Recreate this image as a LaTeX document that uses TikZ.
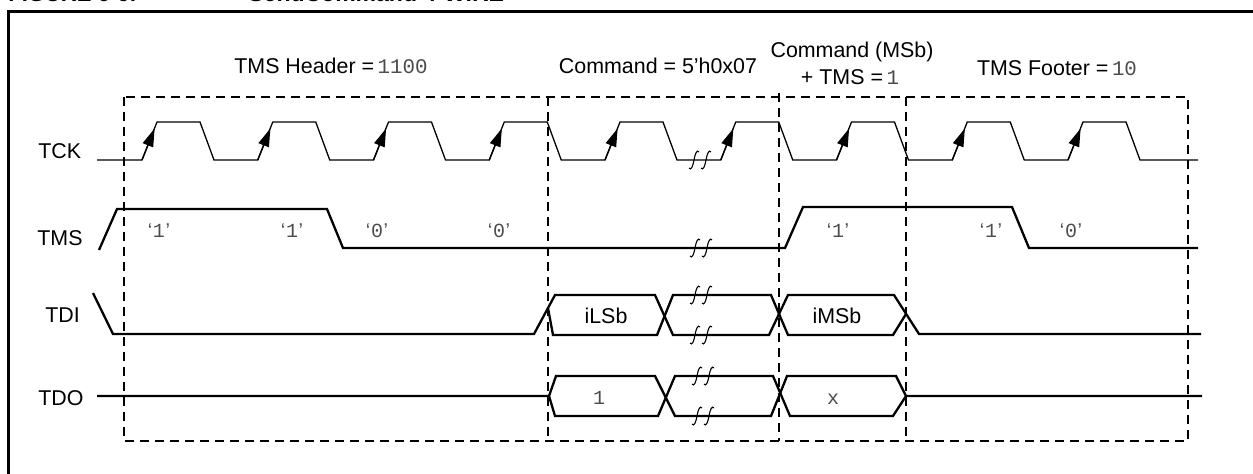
\documentclass[tikz,border=0pt]{standalone}
\usepackage{fontspec}
\setmainfont{Liberation Sans}
\newfontfamily\monof{Liberation Mono}
\usetikzlibrary{arrows.meta}
\definecolor{monogray}{gray}{0.3}
\newcommand{\mono}[1]{{\monof\fontsize{10.4}{12}\selectfont\color{monogray}#1}}
\newcommand{\qv}[1]{{\color{monogray}\fontsize{10}{12}\selectfont ‘\kern0.3pt{\monof #1}\kern0.3pt’}}
\tikzset{
  lbl/.style={inner sep=0pt, anchor=base, font=\fontsize{10.7}{13}\selectfont},
  qlbl/.style={inner sep=0pt, anchor=base, font=\monof\fontsize{10}{12}\selectfont, text=monogray},
  sig/.style={line width=1.15pt, line join=miter},
  clk/.style={line width=0.65pt},
  dbox/.style={line width=1pt, dash pattern=on 4.5pt off 3pt},
  clkarrow/.style={-{Triangle[length=9pt,width=5.5pt]}, line width=0.65pt},
  frame/.style={line width=1.5pt},
  breakmark/.pic={
    \draw[line width=0.55pt] (-11,8) .. controls (-9,11) and (-7,6) .. (-6,0) .. controls (-5,-6) and (-3,-11) .. (-1,-8);
    \draw[line width=0.55pt] (1,8) .. controls (3,11) and (5,6) .. (6,0) .. controls (7,-6) and (9,-11) .. (11,-8);
  }
}
\begin{document}
\begin{tikzpicture}[x=0.5pt,y=-0.5pt]
\useasboundingbox (0,0) rectangle (1253,473);
% clipped title
\node[inner sep=0pt, anchor=base west, font=\bfseries\fontsize{11}{13}\selectfont] (title) at (8,1) {FIGURE 6-6:};
\node[inner sep=0pt, anchor=base west, font=\bfseries\fontsize{11.5}{13}\selectfont] (title2) at (248,1) {SendCommand 4-WIRE};
% frame
\draw[frame] (8,480) -- (8,11) -- (1260,11);
% dashed boxes
\draw[dbox] (124,97) rectangle (1188,441);
\draw[dbox] (548,97) -- (548,441);
\draw[dbox] (779,93) -- (779,441);
\draw[dbox] (906,97) -- (906,441);
% headers
\node[lbl] (hdr) at (331,73) {TMS Header =\,\mono{1100}};
\node[lbl] (cmd) at (658,73) {Command = 5’h0x07};
\node[lbl] (msb1) at (852,57) {Command (MSb)};
\node[lbl] (msb2) at (850,84) {+ TMS =\,\mono{1}};
\node[lbl] (ftr) at (1057,75) {TMS Footer =\,\mono{10}};
% signal names
\node[lbl, anchor=base west] (tck) at (38,158) {TCK};
\node[lbl, anchor=base west] (tms) at (37,245) {TMS};
\node[lbl, anchor=base west] (tdi) at (45,322) {TDI};
\node[lbl, anchor=base west] (tdo) at (38,405) {TDO};
% TCK
\draw[clk] (97,160) foreach \k in {0,...,8}{
  -- ({142+115.75*\k},160) -- ({157+115.75*\k},122) -- ({200+115.75*\k},122) -- ({214+115.75*\k},160)
} -- (1198,160);
\foreach \k in {0,...,8}{
  \draw[clkarrow] ({142+115.75*\k},160) -- ({154.6+115.75*\k},128.5);
}
% TMS
\draw[sig] (99,250) -- (117,209) -- (327,209) -- (343,248) -- (785,248) -- (803,207) -- (1012,207) -- (1029,248) -- (1198,248);
\foreach \x/\v in {159/1,292/1,377/0,499/0,838/1,991/1,1071/0}{
  \node[lbl] at (\x,237) {\qv{\v}};
}
% TDI
\draw[sig] (93,293) -- (113,334) -- (534,334) -- (555,295) -- (655,295) -- (673,335) -- (769,335) -- (788,295) -- (894,295) -- (919,334) -- (1201,334);
\draw[sig] (548,308) -- (553,335) -- (657,335) -- (673,295) -- (771,295) -- (788,335) -- (893,335) -- (906,314);
\node[lbl] (ilsb) at (606,323) {iLSb};
\node[lbl] (imsb) at (837,323) {iMSb};
% TDO
\draw[sig] (97,396) -- (549,396) -- (556,376) -- (655,376) -- (675,416) -- (771,416) -- (787,376) -- (896,376) -- (906,396) -- (1202,396);
\draw[sig] (549,396) -- (555,416) -- (658,416) -- (675,376) -- (773,376) -- (790,416) -- (893,416) -- (906,396);
\node[qlbl] (one) at (599,404) {1};
\node[qlbl] (ex) at (833,404) {x};
% break marks
\pic at (700,160) {breakmark};
\pic at (701,248) {breakmark};
\pic at (701,295) {breakmark};
\pic at (701,335) {breakmark};
\pic at (703,376) {breakmark};
\pic at (703,416) {breakmark};
\end{tikzpicture}
\end{document}
